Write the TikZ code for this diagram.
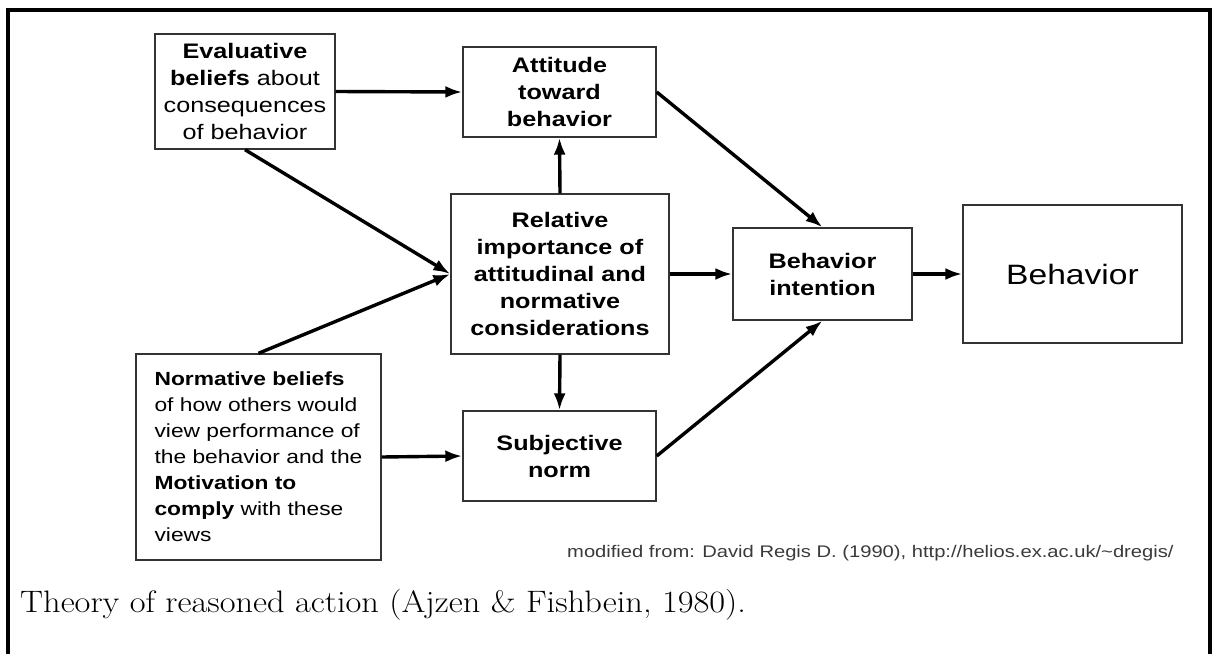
\documentclass[tikz,border=0pt]{standalone}
\usepackage{fontspec}
\usepackage{tikz}
\usetikzlibrary{arrows.meta, positioning}
\newfontfamily\diagfont[FakeStretch=1.2]{Liberation Sans}
\newfontfamily\capfont[FakeStretch=1.11]{Latin Modern Roman}
\definecolor{edgegray}{HTML}{333333}
\definecolor{creditgray}{HTML}{3A3A3A}

\begin{document}
\begin{tikzpicture}[
  x=1pt, y=-1pt,
  concept/.style={draw=edgegray, line width=1.4pt, align=center, inner sep=0pt,
    font=\diagfont\fontsize{21}{27}\selectfont},
  arr/.style={-{Latex[length=17pt, width=12pt]}, line width=3.4pt}
]
\useasboundingbox (0,0) rectangle (1212,654);

% outer frame (open at the bottom)
\draw[line width=4pt] (8,654) -- (8,10) -- (1210,10) -- (1210,654);

\node[concept, minimum width=180pt, minimum height=115pt] (evalbel) at (245,91.5)
  {\textbf{Evaluative}\\\textbf{beliefs} about\\consequences\\of behavior};
\node[concept, minimum width=193pt, minimum height=90pt] (attitude) at (559.5,92)
  {\textbf{Attitude}\\\textbf{toward}\\\textbf{behavior}};
\node[concept, minimum width=218pt, minimum height=160pt] (relimp) at (560,274)
  {\textbf{Relative}\\\textbf{importance of}\\\textbf{attitudinal and}\\\textbf{normative}\\\textbf{considerations}};
\node[concept, minimum width=193pt, minimum height=90pt] (subjnorm) at (559.5,456)
  {\textbf{Subjective}\\\textbf{norm}};
\node[concept, minimum width=179pt, minimum height=92pt] (intention) at (822.5,274)
  {\textbf{Behavior}\\\textbf{intention}};
\node[concept, minimum width=219pt, minimum height=138pt,
  font=\diagfont\fontsize{28}{34}\selectfont] (behavior) at (1072.5,274) {Behavior};
\node[concept, minimum width=245pt, minimum height=206pt, align=left,
  font=\diagfont\fontsize{19}{26}\selectfont] (normbel) at (258.5,457)
  {\textbf{Normative beliefs}\\of how others would\\view performance of\\the behavior and the\\\textbf{Motivation to}\\\textbf{comply} with these\\views\hspace*{125pt}};

\draw[arr] (evalbel.east) -- (attitude.west);
\draw[arr] (evalbel.south) -- (relimp.west);
\draw[arr] (normbel.north) -- (relimp.west);
\draw[arr] (relimp.north) -- (attitude.south);
\draw[arr] (relimp.south) -- (subjnorm.north);
\draw[arr] (normbel.east) -- (subjnorm.west);
\draw[arr] (attitude.east) -- (intention.north);
\draw[arr] (subjnorm.east) -- (intention.south);
\draw[arr] (relimp.east) -- (intention.west);
\draw[arr] (intention.east) -- (behavior.west);

\node[anchor=base west, inner sep=0pt, text=creditgray,
  font=\diagfont\fontsize{16.8}{20}\selectfont] (credit) at (567,557)
  {modified from: David Regis D. (1990), http://helios.ex.ac.uk/\textasciitilde dregis/};
\node[anchor=base west, inner sep=0pt, font=\capfont\fontsize{31}{37}\selectfont] (caption) at (20,612)
  {Theory of reasoned action (Ajzen \& Fishbein, 1980).};
\end{tikzpicture}
\end{document}
